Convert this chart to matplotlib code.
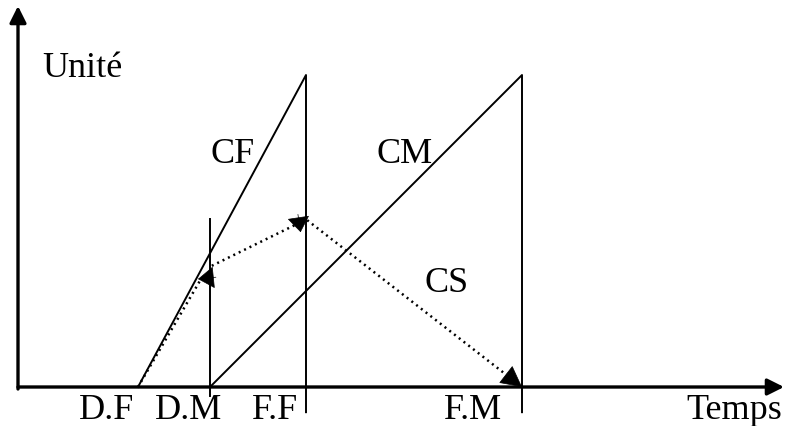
import matplotlib
matplotlib.use("Agg")
import matplotlib.pyplot as plt
import numpy as np

# Time points (arbitrary units) and unit levels
events = ["D.F", "D.M", "F.F", "F.M"]
event_t = [2.0, 3.2, 4.8, 8.4]
peak_level = 5.2          # top of CF and CM lines
dm_level = 2.8            # top of D.M vertical line / CS peak
# dotted CS path segments (t, level)
cs_seg1_t = [2.0, 3.05]
cs_seg1_u = [0.0, 1.8]
cs_seg2_t = [3.23, 4.78]
cs_seg2_u = [2.02, 2.78]
cs_seg3_t = [4.82, 8.4]
cs_seg3_u = [2.78, 0.0]

PX = 60.0  # pixels per unit
X0, Y0 = 18.0, 388.0

plt.rcParams['font.family'] = ['Liberation Serif', 'DejaVu Serif']
fig = plt.figure(figsize=(7.87, 4.27), dpi=100)
ax = fig.add_axes([0, 0, 1, 1])
ax.set_xlim(-X0 / PX, (787 - X0) / PX)
ax.set_ylim((Y0 - 427) / PX, Y0 / PX)
ax.axis('off')

def px(x, y):
    return ((x - X0) / PX, (Y0 - y) / PX)

lw = 1.4
# Axes with arrows
ax.annotate('', xy=px(784, 388), xytext=px(18, 388),
            arrowprops=dict(arrowstyle='-|>', mutation_scale=25, lw=2.4, color='k',
                            shrinkA=0, shrinkB=0))
ax.annotate('', xy=px(18, 7), xytext=px(18, 390),
            arrowprops=dict(arrowstyle='-|>', mutation_scale=25, lw=2.4, color='k',
                            shrinkA=0, shrinkB=0))

tDF, tDM, tFF, tFM = event_t
# CF: from D.F up to peak at F.F, then down
ax.plot([tDF, tFF, tFF], [0, peak_level, -0.42], color='k', lw=lw)
# CM: from D.M up to peak at F.M, then down
ax.plot([tDM, tFM, tFM], [0, peak_level, -0.42], color='k', lw=lw)
# D.M vertical
ax.plot([tDM, tDM], [dm_level, -0.15], color='k', lw=lw)

# Dotted CS lines
for tt, uu in [(cs_seg1_t, cs_seg1_u), (cs_seg2_t, cs_seg2_u), (cs_seg3_t, cs_seg3_u)]:
    ax.plot(tt, uu, color='k', lw=1.8, ls=(0, (0.8, 1.6)))

# Arrowheads (tip, direction in data units, head length)
heads = [((cs_seg1_t[1] - 0.05, cs_seg1_u[1]), (-1.0, -0.1), 0.38),
         ((cs_seg2_t[1] - 0.07, cs_seg2_u[1] - 0.2), (0.15, -1.0), 0.36),
         ((cs_seg3_t[1], cs_seg3_u[1]), (cs_seg3_t[1] - cs_seg3_t[0], cs_seg3_u[1] - cs_seg3_u[0]), 0.5)]
for tip, d, hl in heads:
    d = np.array(d, dtype=float)
    d = d / np.hypot(*d)
    start = (tip[0] - d[0] * 0.3, tip[1] - d[1] * 0.3)
    ax.annotate('', xy=tip, xytext=start,
                arrowprops=dict(arrowstyle=f'-|>,head_length={hl},head_width=0.26',
                                mutation_scale=28, lw=0.5, color='k',
                                shrinkA=0, shrinkB=0))

fs = 26
def txt(x, y, s):
    ax.text(*px(x, y), s, fontsize=fs, ha='left', va='baseline', color='k')

txt(42, 77, "Unité")
txt(210, 163, "CF")
txt(377, 163, "CM")
txt(424, 292, "CS")
label_px = [79, 155, 252, 444]
for lab, xp in zip(events, label_px):
    txt(xp, 419, lab)
txt(686, 419, "Temps")

fig.savefig("out.png", dpi=100)
